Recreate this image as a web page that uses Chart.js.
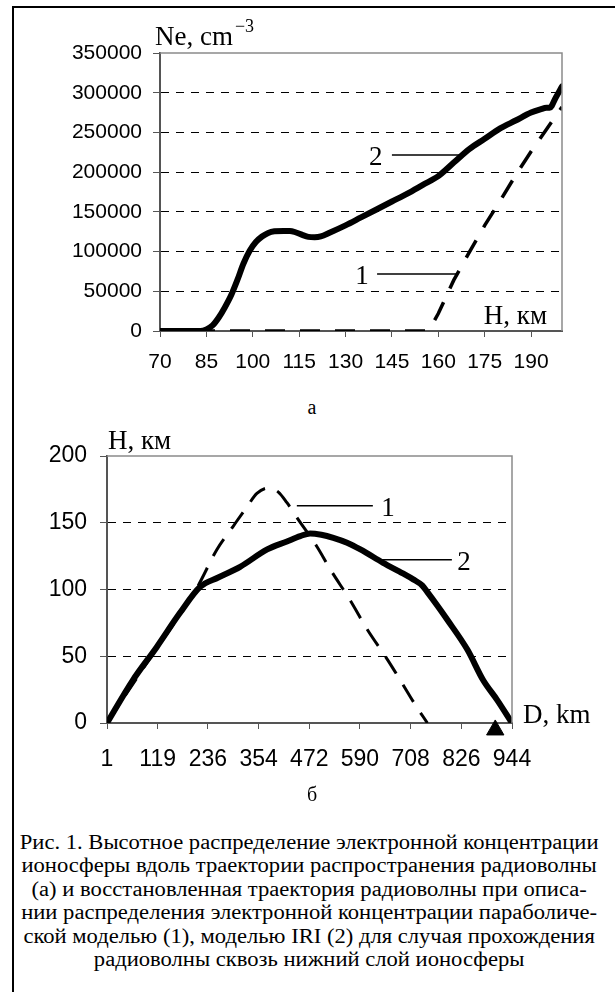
<!DOCTYPE html>
<html lang="ru">
  <head>
    <meta charset="UTF-8" />
    <title>Рис. 1</title>
    <style>
      body { margin: 0; background: #fff; }
      #page { position: relative; width: 615px; height: 992px; overflow: hidden; }
      #frame { position: absolute; left: 12px; top: 6px; width: 620px; height: 1000px;
               border-left: 2px solid #000; border-top: 2px solid #000; }
      canvas { position: absolute; left: 0; }
      .sub { position: absolute; width: 40px; text-align: center;
             font: 20px "Liberation Serif", serif; }
      #caption { position: absolute; left: 14px; top: 831px; width: 590px; text-align: center;
                 font: 20px/23.4px "Liberation Serif", serif; color: #000; white-space: nowrap;
                 transform: scaleX(1.13); transform-origin: 294px 0; }
    </style>
  </head>
  <body>
    <div id="page">
      <div id="frame"></div>
      <canvas id="chartA" width="615" height="390" style="top:0"></canvas>
      <canvas id="chartB" width="615" height="370" style="top:420px"></canvas>
      <div class="sub" style="left:292px; top:396px">а</div>
      <div class="sub" style="left:292px; top:783px">б</div>
      <div id="caption">
        Рис. 1. Высотное распределение электронной концентрации<br>
        ионосферы вдоль траектории распространения радиоволны<br>
        (а) и восстановленная траектория радиоволны при описа-<br>
        нии распределения электронной концентрации параболиче-<br>
        ской моделью (1), моделью IRI (2) для случая прохождения<br>
        радиоволны сквозь нижний слой ионосферы
      </div>
    </div>

    <script src="https://cdn.jsdelivr.net/npm/chart.js"></script>

    <script>
      // (а) electron density vs height
      const topTicksH = [70, 85, 100, 115, 130, 145, 160, 175, 190];
      const iriH = [70, 75, 80, 83, 85, 87, 89, 91, 93, 95, 97, 99, 101, 103, 105, 107, 110, 112, 114, 116, 118, 120,
        122, 125, 130, 135, 140, 145, 150, 155, 160, 165, 170, 175, 180, 185, 190, 193, 195, 196, 198, 200];
      const iriNe = [0, 0, 0, 0, 2000, 7000, 17000, 30000, 45000, 64000, 85000, 101000, 112000, 119000, 123500, 125500,
        126000, 126000, 124000, 121000, 118500, 118000, 119000, 124000, 133000, 143000, 153000, 163000, 173000, 184000,
        195000, 212000, 229000, 242000, 255000, 265000, 275000, 279000, 281000, 281000, 294000, 308000];
      const parH = [70, 156, 158, 160, 165, 170, 175, 180, 185, 190, 195, 200];
      const parNe = [0, 0, 8000, 22000, 64000, 99000, 133000, 164000, 196000, 226000, 254000, 282000];

      // (б) ray trajectory, height vs distance
      const botTicksD = [1, 119, 236, 354, 472, 590, 708, 826, 944];
      const rayIriD = [1, 61, 117, 171, 218, 260, 311, 374, 420, 451, 474, 500, 528, 560, 591, 644, 690, 714, 735, 747,
        770, 793, 840, 877, 910, 944];
      const rayIriH = [0, 32, 57, 82.5, 102, 109, 117, 130, 136, 140, 142, 141, 138.7, 135, 130, 120, 112, 107.6, 103,
        98, 88, 77.5, 55, 32, 17, 0];
      const rayParD = [1, 100, 210, 257, 294, 327, 350, 376, 400, 420, 443, 490, 521, 567, 607, 654, 684, 720, 747];
      const rayParH = [0, 48, 101, 130, 147, 162, 172, 176, 173, 165, 154, 132, 115, 92, 70, 47.5, 32, 13, 0];
      const receiverD = [905];
      const receiverH = [-5.2];

      const pts = (xs, ys) => xs.map((x, i) => ({ x: x, y: ys[i] }));

      Chart.defaults.font.family = "'Liberation Sans', Arial, sans-serif";
      Chart.defaults.color = "#000";

      const serif = '"Liberation Serif", serif';

      // draws the gray frame on top/right, axis titles and the "1"/"2" callouts
      function decorPlugin(cfg) {
        return {
          id: "decor",
          afterDatasetsDraw(chart) {
            const c = chart.ctx;
            const a = chart.chartArea;
            const xs = chart.scales.x;
            const ys = chart.scales.y;
            c.save();
            c.strokeStyle = "#8a8a8a";
            c.lineWidth = 1.5;
            c.beginPath();
            c.moveTo(a.left, a.top);
            c.lineTo(a.right, a.top);
            c.lineTo(a.right, a.bottom);
            c.stroke();

            c.fillStyle = "#000";
            c.strokeStyle = "#000";
            c.lineWidth = 1.5;
            c.textBaseline = "alphabetic";
            cfg.callouts.forEach((co) => {
              const y = ys.getPixelForValue(co.y);
              c.beginPath();
              c.moveTo(xs.getPixelForValue(co.x1), y);
              c.lineTo(xs.getPixelForValue(co.x2), y);
              c.stroke();
              c.font = "27px " + serif;
              c.textAlign = "center";
              c.fillText(co.text, xs.getPixelForValue(co.tx), y + 10);
            });
            cfg.titles(c, a);
            c.restore();
          },
        };
      }

      function yAxis(max, step, width, size, pad) {
        return {
          type: "linear",
          min: 0,
          max: max,
          ticks: { stepSize: step, padding: pad, font: { size: size }, callback: (v) => String(v) },
          grid: {
            color: (ctx) => (ctx.tick && (ctx.tick.value === 0 || ctx.tick.value === max) ? "rgba(0,0,0,0)" : "#000"),
            tickColor: "#555",
            tickLength: 7,
            lineWidth: 1,
          },
          border: { color: "#555", width: 2, dash: [8, 7] },
          afterFit: (s) => { s.width = width; },
        };
      }

      function xAxis(min, max, tickVals, height, size, pad) {
        return {
          type: "linear",
          min: min,
          max: max,
          afterBuildTicks: (s) => { s.ticks = tickVals.map((v) => ({ value: v })); },
          ticks: { autoSkip: false, maxRotation: 0, padding: pad, font: { size: size }, callback: (v) => String(v) },
          grid: { drawOnChartArea: false, tickColor: "#555", tickLength: 6 },
          border: { color: "#555", width: 2 },
          afterFit: (s) => { s.height = height; },
        };
      }

      new Chart(document.getElementById("chartA"), {
        type: "line",
        data: {
          datasets: [
            {
              label: "1",
              data: pts(parH, parNe),
              borderColor: "#000",
              borderWidth: 3.5,
              borderDash: [20, 15],
              pointRadius: 0,
              fill: false,
            },
            {
              label: "2",
              data: pts(iriH, iriNe),
              borderColor: "#000",
              borderWidth: 6,
              borderCapStyle: "round",
              borderJoinStyle: "round",
              cubicInterpolationMode: "monotone",
              pointRadius: 0,
              fill: false,
            },
          ],
        },
        options: {
          responsive: false,
          animation: false,
          layout: { padding: { top: 53, right: 53, left: 0, bottom: 0 } },
          plugins: { legend: { display: false }, tooltip: { enabled: false } },
          scales: {
            x: xAxis(70, 200, topTicksH, 59, 21, 13),
            y: yAxis(350000, 50000, 160, 21, 11),
          },
        },
        plugins: [
          decorPlugin({
            callouts: [
              { text: "2", x1: 145, x2: 168, y: 221700, tx: 139.8 },
              { text: "1", x1: 140.2, x2: 166, y: 71800, tx: 135.3 },
            ],
            titles: (c, a) => {
              c.textAlign = "left";
              c.font = "27px " + serif;
              c.fillText("Ne, cm", a.left - 5, a.top - 8);
              const w = c.measureText("Ne, cm").width;
              c.font = "18px " + serif;
              c.fillText("\u22123", a.left - 3 + w, a.top - 21);
              c.textAlign = "right";
              c.font = "27px " + serif;
              c.fillText("H, км", a.right - 15, a.bottom - 7);
            },
          }),
        ],
      });

      new Chart(document.getElementById("chartB"), {
        type: "line",
        data: {
          datasets: [
            {
              label: "1",
              data: pts(rayParD, rayParH),
              borderColor: "#000",
              borderWidth: 3,
              borderDash: [20, 13],
              cubicInterpolationMode: "monotone",
              pointRadius: 0,
              fill: false,
            },
            {
              label: "2",
              data: pts(rayIriD, rayIriH),
              borderColor: "#000",
              borderWidth: 6,
              borderCapStyle: "round",
              borderJoinStyle: "round",
              cubicInterpolationMode: "monotone",
              pointRadius: 0,
              fill: false,
            },
            {
              label: "receiver",
              data: pts(receiverD, receiverH),
              showLine: false,
              pointStyle: "triangle",
              pointRadius: 10,
              backgroundColor: "#000",
              borderColor: "#000",
              clip: false,
            },
          ],
        },
        options: {
          responsive: false,
          animation: false,
          layout: { padding: { top: 36, right: 103, left: 0, bottom: 0 } },
          plugins: { legend: { display: false }, tooltip: { enabled: false } },
          scales: {
            x: xAxis(1, 944, botTicksD, 67, 23, 17),
            y: yAxis(200, 50, 107, 23, 13),
          },
        },
        plugins: [
          decorPlugin({
            callouts: [
              { text: "1", x1: 443, x2: 620, y: 162.7, tx: 655 },
              { text: "2", x1: 637, x2: 804, y: 122.2, tx: 832 },
            ],
            titles: (c, a) => {
              c.textAlign = "left";
              c.font = "27px " + serif;
              c.fillText("H, км", a.left + 1, a.top - 7);
              c.fillText("D, km", a.right + 11, a.bottom);
            },
          }),
        ],
      });
    </script>
  </body>
</html>
